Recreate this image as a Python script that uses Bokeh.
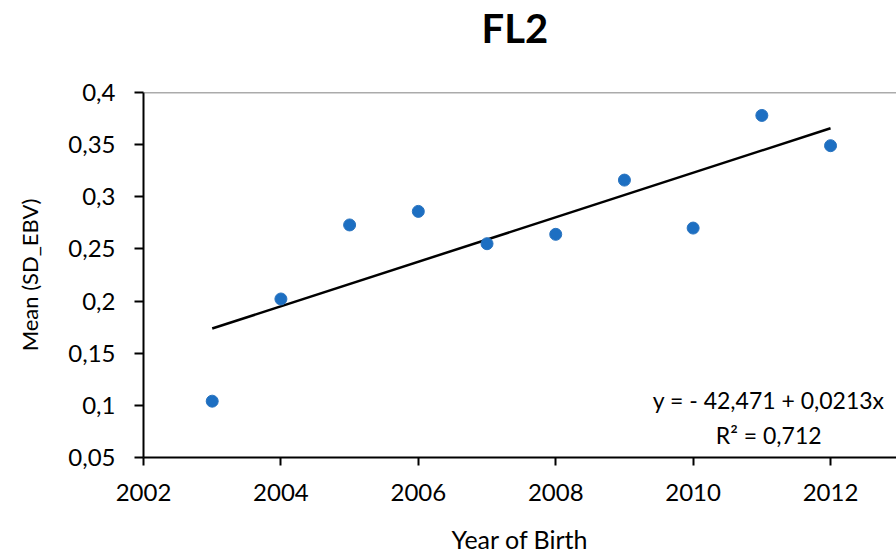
import numpy as np
from bokeh.plotting import figure
from bokeh.models import Range1d, FixedTicker, Span, Label, ColumnDataSource, Title
from bokeh.embed import file_html
from bokeh.resources import INLINE

# ---- data ----
years = [2003, 2004, 2005, 2006, 2007, 2008, 2009, 2010, 2011, 2012]
mean_sd_ebv = [0.104, 0.202, 0.273, 0.286, 0.255, 0.264, 0.316, 0.270, 0.378, 0.349]
x_ticks = [2002, 2004, 2006, 2008, 2010, 2012]
y_ticks = [0.05, 0.1, 0.15, 0.2, 0.25, 0.3, 0.35, 0.4]
y_tick_labels = ["0,05", "0,1", "0,15", "0,2", "0,25", "0,3", "0,35", "0,4"]
chart_title = "FL2"
x_title = "Year of Birth"
y_title = "Mean (SD_EBV)"
equation_text = "y = - 42,471 + 0,0213x"
r2_text = "R² = 0,712"

FONT = "Lato"

p = figure(width=896, height=556, output_backend="svg", toolbar_location=None,
           x_range=Range1d(2002, 2012.96), y_range=Range1d(0.05, 0.4),
           min_border_left=143, min_border_right=0, min_border_top=92,
           min_border_bottom=99, title=None)

# invisible spacer panel next to the frame, real title above it
p.add_layout(Title(text="\u00a0", text_font=FONT, text_font_size="1px", standoff=38), "above")
p.add_layout(Title(text=chart_title, text_font=FONT, text_font_size="40px",
                   text_font_style="bold", align="left", offset=338, text_color="black",
                   standoff=0), "above")

p.outline_line_color = None
p.xgrid.grid_line_color = None
p.ygrid.grid_line_color = None

for ax in (p.xaxis[0], p.yaxis[0]):
    ax.axis_line_color = "black"
    ax.axis_line_width = 2
    ax.major_tick_line_color = "black"
    ax.major_tick_line_width = 2
    ax.major_tick_in = 0
    ax.minor_tick_line_color = None
    ax.major_label_text_font = FONT
    ax.major_label_text_font_size = "24px"
    ax.major_label_text_color = "black"
    ax.axis_label_text_font = FONT
    ax.axis_label_text_font_style = "normal"
    ax.axis_label_text_color = "black"

p.xaxis.ticker = FixedTicker(ticks=x_ticks)
p.xaxis.major_label_overrides = {t: str(t) for t in x_ticks}
p.xaxis.major_tick_out = 8
p.xaxis.major_label_standoff = 18
p.xaxis.major_label_text_line_height = 0.8
p.xaxis.axis_label = x_title
p.xaxis.axis_label_text_font_size = "25px"
p.xaxis.axis_label_text_line_height = 0.8
p.xaxis.axis_label_standoff = 20

p.yaxis.ticker = FixedTicker(ticks=y_ticks)
p.yaxis.major_label_overrides = {t: l for t, l in zip(y_ticks, y_tick_labels)}
p.yaxis.major_tick_out = 9
p.yaxis.major_label_standoff = 19
p.yaxis.axis_label = y_title
p.yaxis.axis_label_text_font_size = "22px"
p.yaxis.axis_label_standoff = 22

# top border line
p.add_layout(Span(location=0.4, dimension="width", line_color="#595959", line_width=1.5))

# linear trend from data
slope, intercept = np.polyfit(years, mean_sd_ebv, 1)
trend_x = [years[0], years[-1]]
trend_y = [intercept + slope * x for x in trend_x]
p.line(trend_x, trend_y, line_color="black", line_width=2.5)

src = ColumnDataSource(dict(x=years, y=mean_sd_ebv))
p.scatter("x", "y", source=src, size=12, fill_color="#1d6fc2", line_color="#2a74c0", line_width=1)

p.add_layout(Label(x=2011.1, y=0.1047, text=equation_text, text_align="center",
                   text_baseline="alphabetic", text_font=FONT, text_font_size="23px",
                   text_color="black"))
p.add_layout(Label(x=2011.1, y=0.072, text=r2_text, text_align="center",
                   text_baseline="alphabetic", text_font=FONT, text_font_size="23px",
                   text_color="black"))

open("out.html", "w").write(file_html(p, INLINE))
